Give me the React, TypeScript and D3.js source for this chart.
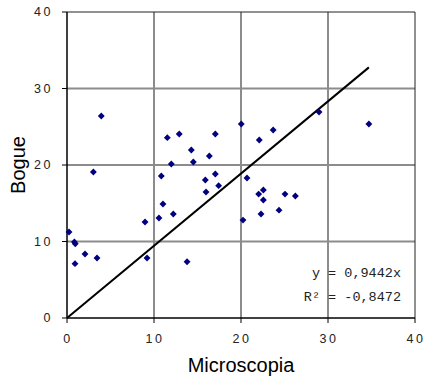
import React from "react"
import * as d3 from "d3"

// Microscopia (x) vs Bogue (y)
const microscopia = [
  0.23, 0.85, 0.95, 0.92, 2.07, 3.45, 3.03, 3.94, 8.97, 9.2,
  10.57, 10.84, 11.03, 11.53, 11.99, 12.22, 12.9, 13.8, 14.29, 14.52,
  15.9, 15.98, 16.36, 17.05, 17.05, 17.43, 20.03, 20.23, 20.69, 22.1,
  22.03, 22.57, 22.57, 22.3, 23.7, 24.37, 25.06, 26.25, 28.97, 34.7,
]
const bogue = [
  11.24, 9.95, 9.7, 7.1, 8.37, 7.84, 19.08, 26.4, 12.55, 7.84,
  13.07, 18.56, 14.9, 23.57, 20.13, 13.6, 24.05, 7.36, 21.96, 20.39,
  18.04, 16.47, 21.18, 24.05, 18.82, 17.3, 25.36, 12.8, 18.3, 23.27,
  16.2, 16.73, 15.42, 13.6, 24.58, 14.1, 16.2, 15.95, 26.93, 25.36,
]
const slope = 0.9442
const equationLabel = "y = 0,9442x"
const r2Label = "R² = -0,8472"
const ticks = [0, 10, 20, 30, 40]

export default function App() {
  const left = 67, right = 415, top = 12, bottom = 318
  const x = d3.scaleLinear().domain([0, 40]).range([left, right])
  const y = d3.scaleLinear().domain([0, 40]).range([bottom, top])

  const xMax = d3.max(microscopia) as number
  const trend = d3.line<number>()
    .x(d => x(d))
    .y(d => y(d * slope))([0, xMax]) as string

  // square diamond like Excel's marker
  const diamond = d3.symbol().type(d3.symbolDiamond2).size(30)() as string
  const tickFont = "'Liberation Sans', Arial, sans-serif"
  const monoFont = "'Liberation Mono', 'Courier New', monospace"

  return (
    <svg width={425} height={382} style={{ position: "absolute", left: 0, top: 0 }}>
      <rect x={0} y={0} width={425} height={382} fill="#fff" />
      {/* gridlines */}
      {ticks.slice(1, 4).map(t => (
        <g key={"g" + t}>
          <line x1={x(t)} x2={x(t)} y1={top} y2={bottom} stroke="#8c8c8c" strokeWidth={2} />
          <line x1={left} x2={right} y1={y(t)} y2={y(t)} stroke="#8c8c8c" strokeWidth={2} />
        </g>
      ))}
      {/* frame */}
      <line x1={left} x2={right} y1={top} y2={top} stroke="#222" strokeWidth={1} />
      <line x1={right} x2={right} y1={top} y2={bottom} stroke="#222" strokeWidth={1} />
      <line x1={left} x2={left} y1={top} y2={bottom} stroke="#000" strokeWidth={1.5} />
      <line x1={left} x2={right} y1={bottom} y2={bottom} stroke="#000" strokeWidth={1.5} />
      {/* ticks */}
      {ticks.map(t => (
        <g key={"t" + t}>
          <line x1={left - 5} x2={left} y1={y(t)} y2={y(t)} stroke="#000" />
          <line x1={x(t)} x2={x(t)} y1={bottom} y2={bottom + 5} stroke="#000" />
          <text x={left - 14} y={y(t)} dy="0.35em" textAnchor="end" fontFamily={tickFont}
            fontSize={12.5} letterSpacing={2.5} fill="#222">{t}</text>
          <text x={x(t) + 1} y={bottom + 25} textAnchor="middle" fontFamily={tickFont}
            fontSize={12.5} letterSpacing={2.5} fill="#222">{t}</text>
        </g>
      ))}
      {/* trendline */}
      <path d={trend} fill="none" stroke="#000" strokeWidth={2} />
      {/* points */}
      {microscopia.map((m, i) => (
        <path key={i} d={diamond} transform={`translate(${x(m)},${y(bogue[i])})`} fill="#000080" />
      ))}
      {/* equation */}
      <text x={401} y={277} textAnchor="end" fontFamily={monoFont} fontSize={13.5} fill="#222">{equationLabel}</text>
      <text x={401} y={301} textAnchor="end" fontFamily={monoFont} fontSize={13.5} fill="#222">{r2Label}</text>
      {/* axis titles */}
      <text x={241} y={372} textAnchor="middle" fontFamily={tickFont} fontSize={20} fill="#000">Microscopia</text>
      <text transform={`translate(25,${(top + bottom) / 2}) rotate(-90)`} textAnchor="middle"
        fontFamily={tickFont} fontSize={20} fill="#000">Bogue</text>
    </svg>
  )
}
